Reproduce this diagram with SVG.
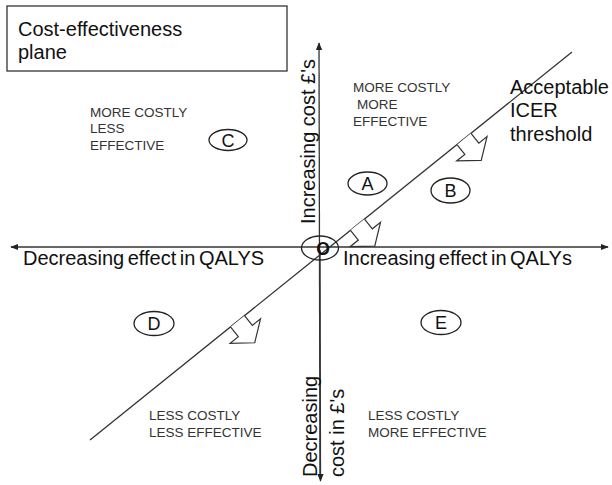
<svg xmlns="http://www.w3.org/2000/svg" width="612" height="485" viewBox="0 0 612 485">
<defs>
<style>
text{font-family:"Liberation Sans",Arial,sans-serif;fill:#111}
.big{font-size:20px}
.q{font-size:13.5px;fill:#333}
.lab{font-size:18px;text-anchor:middle}
.ax{stroke:#333;stroke-width:1.3;fill:none}
.ell{fill:none;stroke:#222;stroke-width:1.3}
.blk{fill:#fff;stroke:#333;stroke-width:1.2;stroke-linejoin:miter}
</style>
<marker id="ah" viewBox="0 0 10 10" refX="9" refY="5" markerWidth="8" markerHeight="8" markerUnits="userSpaceOnUse" orient="auto">
<path d="M0,1 L10,5 L0,9 Z" fill="#222"/>
</marker>
<path id="blockArrow" d="M0,-9 L12.5,-9 L12.5,-19.5 L27.5,0 L12.5,19.5 L12.5,9 L0,9"/>
</defs>

<g id="title">
<rect x="7" y="6" width="280" height="65" fill="#fff" stroke="#333" stroke-width="1.3"/>
<text class="big" x="18" y="36">Cost-effectiveness</text>
<text class="big" x="18" y="59">plane</text>
</g>

<g id="connectors">
<line class="ax" x1="320" y1="478" x2="319" y2="43" marker-end="url(#ah)"/>
<line class="ax" x1="320" y1="250" x2="320.5" y2="481" marker-end="url(#ah)"/>
<line class="ax" x1="320" y1="247" x2="608" y2="247" marker-end="url(#ah)"/>
<line class="ax" x1="320" y1="247" x2="11" y2="247" marker-end="url(#ah)"/>
<line class="ax" x1="90" y1="440" x2="572" y2="52" stroke-width="1.2"/>
</g>

<g id="threshold-arrows">
<use href="#blockArrow" class="blk" transform="translate(464,139) rotate(51.2)"/>
<use href="#blockArrow" class="blk" transform="translate(357.5,224.7) rotate(51.2)"/>
<use href="#blockArrow" class="blk" transform="translate(237.5,321.3) rotate(51.2)"/>
</g>

<g id="origin">
<ellipse class="ell" cx="320" cy="248" rx="18.5" ry="12"/>
<text x="323" y="254.5" font-size="17.5" font-weight="bold" text-anchor="middle">O</text>
</g>

<g id="axis-labels">
<text class="big" transform="translate(315,224) rotate(-90)">Increasing cost £'s</text>
<text class="big" transform="translate(317,477) rotate(-90)">Decreasing</text>
<text class="big" transform="translate(344,477) rotate(-90)">cost in £'s</text>
<text class="big" x="23" y="265" word-spacing="-2">Decreasing effect in QALYS</text>
<text class="big" x="343" y="265" word-spacing="-2">Increasing effect in QALYs</text>
</g>

<g id="icer-label">
<text class="big" x="510" y="94">Acceptable</text>
<text class="big" x="510" y="117">ICER</text>
<text class="big" x="510" y="141">threshold</text>
</g>

<g id="quadrant-nw">
<text class="q" x="90" y="117">MORE COSTLY</text>
<text class="q" x="90" y="133">LESS</text>
<text class="q" x="90" y="150">EFFECTIVE</text>
</g>
<g id="quadrant-ne">
<text class="q" x="353" y="92">MORE COSTLY</text>
<text class="q" x="357" y="109">MORE</text>
<text class="q" x="353" y="126">EFFECTIVE</text>
</g>
<g id="quadrant-sw">
<text class="q" x="149" y="420">LESS COSTLY</text>
<text class="q" x="149" y="437">LESS EFFECTIVE</text>
</g>
<g id="quadrant-se">
<text class="q" x="368" y="420">LESS COSTLY</text>
<text class="q" x="368" y="437">MORE EFFECTIVE</text>
</g>

<g id="node-A">
<ellipse class="ell" cx="367.5" cy="183.5" rx="19.5" ry="11.5"/>
<text class="lab" x="367.5" y="190">A</text>
</g>
<g id="node-B">
<ellipse class="ell" cx="450.5" cy="190.5" rx="19.5" ry="12.5"/>
<text class="lab" x="450.5" y="197">B</text>
</g>
<g id="node-C">
<ellipse class="ell" cx="228" cy="140" rx="19" ry="10.5"/>
<text class="lab" x="228" y="146.5">C</text>
</g>
<g id="node-D">
<ellipse class="ell" cx="154" cy="323.5" rx="20" ry="12"/>
<text class="lab" x="154" y="330">D</text>
</g>
<g id="node-E">
<ellipse class="ell" cx="441" cy="322.5" rx="20" ry="12"/>
<text class="lab" x="441" y="329">E</text>
</g>
</svg>
